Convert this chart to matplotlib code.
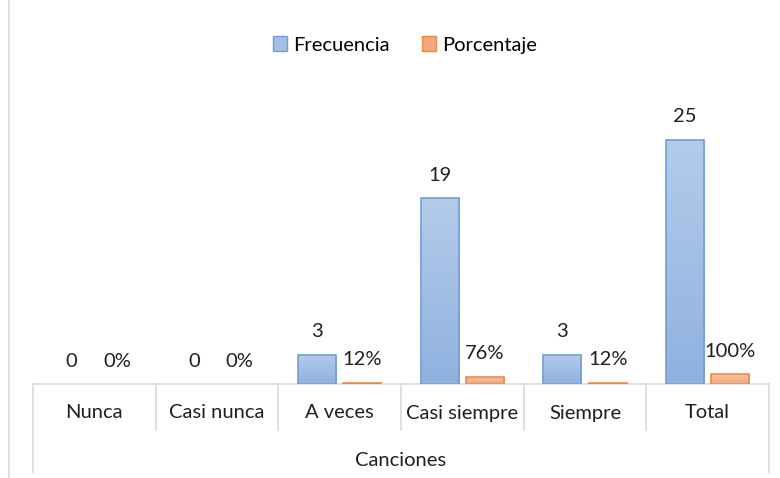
import numpy as np
import matplotlib.pyplot as plt
from matplotlib.lines import Line2D
from matplotlib.patches import Patch
from matplotlib.colors import LinearSegmentedColormap

categories = ['Nunca', 'Casi nunca', 'A veces', 'Casi siempre', 'Siempre', 'Total']
frecuencia = [0, 0, 3, 19, 3, 25]
porcentaje = [0.0, 0.0, 0.12, 0.76, 0.12, 1.00]
axis_title = 'Canciones'

plt.rcParams['font.family'] = ['Lato', 'DejaVu Sans']

BLUE_TOP, BLUE_BOT, BLUE_EDGE = '#b4cbea', '#8fb2e0', '#6f9fd8'
ORANGE_TOP, ORANGE_BOT, ORANGE_EDGE = '#f7c3a0', '#f2a87c', '#ec8a4c'
GRID = '#d9d9d9'
TEXT = '#1f1f1f'
FS = 14.5


def gradient_bars(ax, xs, heights, width, top, bot, edge):
    """Bars with a vertical gradient fill, like Excel's default style."""
    cmap = LinearSegmentedColormap.from_list('g', [bot, top])
    grad = np.linspace(0, 1, 64).reshape(-1, 1)
    bars = ax.bar(xs, heights, width, facecolor='none', edgecolor=edge, linewidth=1.2, zorder=3)
    for b in bars:
        h = b.get_height()
        if h <= 0:
            b.set_visible(False)
            continue
        x0 = b.get_x()
        im = ax.imshow(grad, cmap=cmap, aspect='auto', origin='lower',
                       extent=[x0, x0 + b.get_width(), 0, h], zorder=2)
        im.set_clip_path(b)
    return bars


fig = plt.figure(figsize=(7.8, 4.78), dpi=100)
ax = fig.add_axes([33 / 780, 94 / 478, 736 / 780, 293 / 478])

x = np.arange(len(categories))
w = 0.31
off = 0.185
gradient_bars(ax, x - off, frecuencia, w, BLUE_TOP, BLUE_BOT, BLUE_EDGE)
gradient_bars(ax, x + off, porcentaje, w, ORANGE_TOP, ORANGE_BOT, ORANGE_EDGE)

for xi, f, p in zip(x, frecuencia, porcentaje):
    ax.annotate(f'{f}', (xi - off, f), xytext=(0, 16.5), textcoords='offset points',
                ha='center', va='center', fontsize=FS, color=TEXT)
    ax.annotate(f'{p:.0%}', (xi + off, p), xytext=(0, 16.5), textcoords='offset points',
                ha='center', va='center', fontsize=FS, color=TEXT)

ax.set_xlim(-0.5, len(categories) - 0.5)
ax.set_ylim(0, 30)
ax.set_yticks([])
ax.set_xticks([])
for s in ['left', 'right', 'top']:
    ax.spines[s].set_visible(False)
ax.spines['bottom'].set_color(GRID)
ax.spines['bottom'].set_linewidth(1.2)

# multi-level category axis
trans = ax.get_xaxis_transform()
sep_depth = -46 / 293
outer_depth = -88 / 293
for i in range(1, len(categories)):
    ax.add_line(Line2D([i - 0.5, i - 0.5], [0, sep_depth], transform=trans,
                       color=GRID, lw=1.2, clip_on=False))
for xe in [-0.5, len(categories) - 0.5]:
    ax.add_line(Line2D([xe, xe], [0, outer_depth], transform=trans,
                       color=GRID, lw=1.2, clip_on=False))
for xi, c in zip(x, categories):
    ax.text(xi, -29 / 293, c, transform=trans, ha='center', va='center',
            fontsize=FS, color=TEXT)
ax.text(0.5, -76 / 293, axis_title, transform=ax.transAxes, ha='center', va='center',
        fontsize=FS, color=TEXT)

# chart frame edge on the left
fig.add_artist(Line2D([9 / 780, 9 / 780], [0, 1], transform=fig.transFigure,
                      color=GRID, lw=1.2))

handles = [Patch(facecolor='#a3c0e6', edgecolor=BLUE_EDGE, label='Frecuencia'),
           Patch(facecolor=ORANGE_BOT, edgecolor=ORANGE_EDGE, label='Porcentaje')]
fig.legend(handles=handles, loc='center', bbox_to_anchor=(405 / 780, 1 - 45 / 478),
           ncol=2, frameon=False, fontsize=FS, handlelength=0.7, handleheight=0.7,
           handletextpad=0.3, columnspacing=1.6)

fig.savefig('out.png', dpi=100)
